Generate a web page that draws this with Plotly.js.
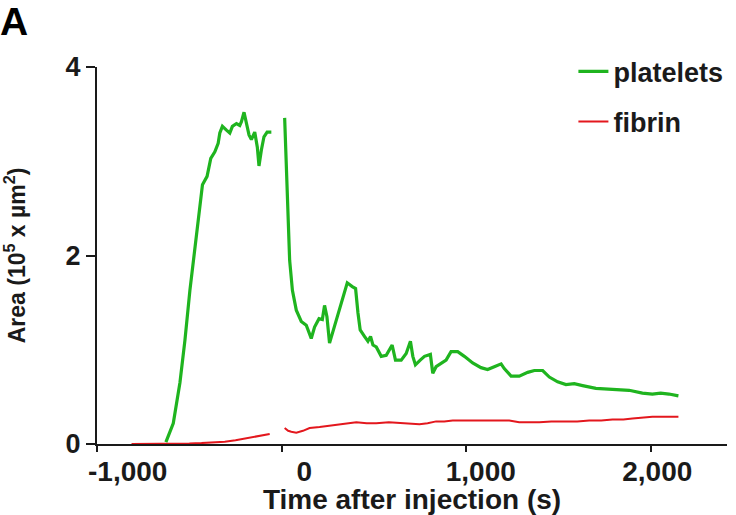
<!DOCTYPE html>
<html>
<head>
<meta charset="utf-8">
<script src="https://cdn.plot.ly/plotly-3.0.1.min.js"></script>
<style>html,body{margin:0;padding:0;background:#fff;}#chart{width:736px;height:515px;}</style>
</head>
<body>
<div id="chart"></div>
<script>
// ---- data (time in s, area in 10^5 x µm^2); null marks a gap in the record ----
const plateletTime = [-627,-587,-551,-524,-497,-470,-443,-429,-404,-384,-362,-344,-335,-321,-299,-281,-267,-245,-227,-218,-204,-191,-177,-164,-146,-132,-123,-110,-96,-79,-56,
  -30,
  16,25,34,43,58,79,106,133,160,178,202,220,232,245,259,296,331,355,382,400,413,425,449,467,481,494,512,539,566,598,616,647,674,697,710,724,750,773,805,818,836,863,890,917,953,989,1034,1079,1115,1151,1188,1205,1242,1286,1332,1368,1413,1449,1494,1539,1584,1629,1701,1791,1881,1953,2007,2052,2097,2148];
const platelets = [0.02,0.22,0.65,1.10,1.63,2.06,2.52,2.75,2.84,3.03,3.10,3.19,3.30,3.37,3.33,3.30,3.37,3.40,3.38,3.42,3.52,3.40,3.28,3.23,3.31,3.15,2.95,3.12,3.26,3.31,3.31,
  null,
  3.46,2.94,2.41,1.95,1.63,1.42,1.30,1.26,1.12,1.24,1.33,1.32,1.47,1.35,1.07,1.32,1.56,1.71,1.67,1.65,1.39,1.21,1.14,1.09,1.14,1.05,1.03,0.93,0.94,1.05,0.89,0.89,0.96,1.09,0.93,0.84,0.89,0.93,0.95,0.75,0.82,0.86,0.89,0.98,0.98,0.93,0.86,0.81,0.79,0.82,0.85,0.80,0.72,0.72,0.76,0.78,0.78,0.71,0.66,0.63,0.64,0.62,0.59,0.58,0.57,0.54,0.53,0.54,0.53,0.51];

const fibrinTime = [-813,-700,-562,-500,-434,-370,-308,-250,-200,-160,-128,-95,-65,
  -30,
  16,35,52,79,115,151,205,250,296,350,404,460,512,580,656,700,746,790,836,880,926,990,1052,1120,1178,1232,1286,1340,1395,1460,1539,1600,1665,1730,1791,1850,1899,1950,2007,2080,2148];
const fibrin = [0.00,0.00,0.00,0.005,0.01,0.015,0.025,0.04,0.06,0.07,0.085,0.095,0.106,
  null,
  0.17,0.14,0.13,0.12,0.14,0.17,0.18,0.19,0.20,0.21,0.23,0.22,0.22,0.23,0.22,0.22,0.21,0.22,0.24,0.24,0.25,0.25,0.25,0.25,0.25,0.25,0.23,0.23,0.23,0.24,0.24,0.24,0.25,0.25,0.26,0.26,0.27,0.28,0.29,0.29,0.29];

const seriesNames = ['platelets', 'fibrin'];
const xTickVals = [-1000, 0, 1000, 2000];
const xTickText = ['-1,000', '0', '1,000', '2,000'];
const yTickVals = [0, 2, 4];
const yTickText = ['0', '2', '4'];

// ---- styling ----
const FONT = '"Liberation Sans", Arial, Helvetica, sans-serif';
const INK = '#1a1a1a';

const traces = [
  {x: plateletTime, y: platelets, name: seriesNames[0], type: 'scatter', mode: 'lines',
   line: {color: '#1fb41f', width: 3.2}, connectgaps: false, legendgroup: 'g1'},
  {x: fibrinTime, y: fibrin, name: seriesNames[1], type: 'scatter', mode: 'lines',
   line: {color: '#e3171d', width: 2}, connectgaps: false, legendgroup: 'g2'},
  {x: [], y: [], xaxis: 'x2', type: 'scatter', mode: 'lines', showlegend: false, hoverinfo: 'skip'}
];

const layout = {
  width: 736, height: 515,
  margin: {l: 97, r: 8, t: 67, b: 71},
  paper_bgcolor: '#fff', plot_bgcolor: '#fff',
  font: {family: FONT, color: INK},
  showlegend: true,
  legend: {x: 0.755, y: 1.052, xanchor: 'left', yanchor: 'top',
    font: {family: FONT, size: 27, weight: 700, color: INK},
    bgcolor: 'rgba(0,0,0,0)', itemwidth: 30, tracegroupgap: 12},
  xaxis: {range: [-1000, 2411], showgrid: false, zeroline: false,
    showline: true, linecolor: INK, linewidth: 2,
    ticks: 'outside', ticklen: 6, tickwidth: 2, tickcolor: INK,
    tickvals: xTickVals, showticklabels: false},
  xaxis2: {overlaying: 'x', anchor: 'y', side: 'bottom', range: [-1174, 2395],
    showgrid: false, zeroline: false, showline: false, ticks: '',
    tickvals: xTickVals, ticktext: xTickText, ticklabelstandoff: 8,
    tickfont: {family: FONT, size: 28, weight: 700, color: INK},
    title: {text: 'Time after injection (s)', standoff: 4,
      font: {family: FONT, size: 28, weight: 700, color: INK}}},
  yaxis: {range: [0, 4], showgrid: false, zeroline: false,
    showline: true, linecolor: INK, linewidth: 2,
    ticks: 'outside', ticklen: 9, tickwidth: 2, tickcolor: INK,
    tickvals: yTickVals, ticktext: yTickText,
    tickfont: {family: FONT, size: 27, weight: 700, color: INK},
    title: {text: 'Area (10<sup>5</sup> x µm<sup>2</sup>)', standoff: 36,
      font: {family: FONT, size: 23, weight: 700, color: INK}}},
  annotations: [
    {text: 'A', xref: 'paper', yref: 'paper', x: -0.157, y: 1.122,
     xanchor: 'left', yanchor: 'middle', showarrow: false,
     font: {family: FONT, size: 39, weight: 700, color: '#000'}}
  ]
};

Plotly.newPlot('chart', traces, layout, {displayModeBar: false, staticPlot: true});
</script>
</body>
</html>
